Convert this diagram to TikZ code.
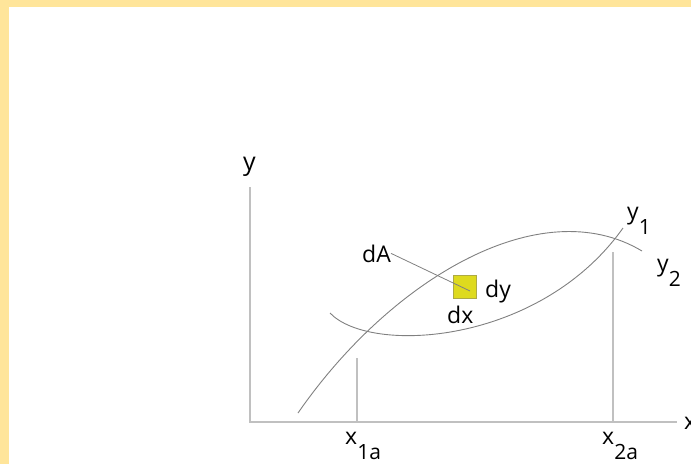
\documentclass[tikz,border=0pt]{standalone}
\usepackage{fontspec}
\setmainfont{Open Sans}
\usetikzlibrary{positioning}
\definecolor{frame}{HTML}{FFE59A}
\definecolor{axisgray}{HTML}{C0C0C0}
\definecolor{curvegray}{HTML}{808080}
\definecolor{patch}{HTML}{DEDA1E}
\definecolor{patchedge}{HTML}{ADAA45}
\newcommand{\lowsub}[2]{#1\raisebox{-15pt}{\fontsize{21}{21}\selectfont #2}}

\begin{document}
\begin{tikzpicture}[x=1pt,y=-1pt,
  lbl/.style={font=\fontsize{23}{25}\selectfont,inner sep=0pt,anchor=base west},
  axis/.style={draw=axisgray,line width=1.6pt},
  curve/.style={draw=curvegray,line width=0.9pt}]
  \useasboundingbox (0,0) rectangle (691,464);
  \clip (0,0) rectangle (691,464);
  % yellow frame on top and left
  \fill[frame] (0,0) rectangle (691,7);
  \fill[frame] (0,0) rectangle (9,464);
  % axes
  \coordinate (O) at (250,422);
  \coordinate (ytop) at (250,187);
  \coordinate (xend) at (677,422);
  \draw[axis] (ytop) -- (O) -- (xend);
  \node[lbl,font=\fontsize{25}{26}\selectfont] (ylab) at (243,170) {y};
  \node[lbl] (xlab) at (684,429) {x};
  % the two curves
  \draw[curve] (298,413) .. controls (390,280) and (540,190) .. (642,251);
  \draw[curve] (330,313) .. controls (370,355) and (540,345) .. (623,228);
  \node[lbl] (y1) at (627,219) {\lowsub{y}{1}};
  \node[lbl] (y2) at (657,271) {\lowsub{y}{2}};
  % limits
  \coordinate (a1) at (357,358);
  \coordinate (a2) at (613,252);
  \draw[axis] (a1) -- (a1 |- O);
  \draw[axis] (a2) -- (a2 |- O);
  \node[lbl] (x1a) at (345,444) {\lowsub{x}{1a}};
  \node[lbl] (x2a) at (602,444) {\lowsub{x}{2a}};
  % area element
  \node[draw=patchedge,fill=patch,line width=0.8pt,minimum size=23pt,inner sep=0pt] (dArea) at (465,287) {};
  \coordinate (tip) at (470,291);
  \node[lbl] (dA) at (362,262) {dA};
  \node[lbl] (dy) at (485,297) {dy};
  \node[lbl] (dx) at (447,323) {dx};
  \draw[curvegray,line width=0.8pt] (dA.east) -- (tip);
\end{tikzpicture}
\end{document}
